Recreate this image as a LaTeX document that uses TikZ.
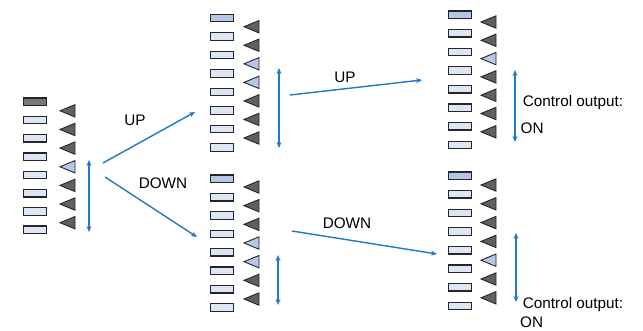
\documentclass[tikz,border=0pt]{standalone}
\usepackage{fontspec}
\setmainfont{Liberation Sans}
\usetikzlibrary{arrows.meta}
\definecolor{rdark}{HTML}{767676}
\definecolor{rlight}{HTML}{DCE6F4}
\definecolor{rmed}{HTML}{B4C7E7}
\definecolor{tdark}{HTML}{606060}
\definecolor{tlight}{HTML}{B4C7E7}
\definecolor{ablue}{HTML}{1F78C8}
\tikzset{
  cell/.style={rectangle, draw=black!85, line width=1.3pt, minimum width=22.5pt, minimum height=7.5pt, inner sep=0pt},
  tri/.style={draw=black!85, line width=0.9pt, line join=miter},
  flow/.style={draw=ablue, line width=1.4pt, -{Stealth[length=6pt,width=5pt]}},
  span/.style={draw=ablue, line width=1.4pt, {Stealth[length=6pt,width=5pt]}-{Stealth[length=6pt,width=5pt]}},
  lbl/.style={font=\fontsize{15.3}{18}\selectfont, inner sep=0pt},
}
% #1 name, #2 rect cx, #3 first rect cy, #4 rect step, #5 tri apex x, #6 first tri cy, #7 tri step, #8 tri colours, #9 first rect colour
\newcommand\cellgroup[9]{%
  \node[cell, fill=#9] (#1r0) at (#2,#3) {};
  \foreach \i in {1,...,7} {\node[cell, fill=rlight] (#1r\i) at ({#2},{#3+\i*#4}) {};}
  \foreach \c [count=\k from 0] in {#8} {%
    \path[tri, fill=\c] ({#5},{#6+\k*#7}) coordinate (#1t\k) -- ({#5+15},{#6+\k*#7-6.2}) -- ({#5+15},{#6+\k*#7+6.2}) -- cycle;}
}
\begin{document}
\begin{tikzpicture}[x=1pt,y=-1pt]
\useasboundingbox[fill=white] (0,0) rectangle (643,330);
\cellgroup{a}{35}{101.7}{18.3}{60}{110.8}{18.65}{tdark,tdark,tdark,tlight,tdark,tdark,tdark}{rdark}
\cellgroup{b}{222}{18}{18.5}{244}{26.7}{18.55}{tdark,tdark,tlight,tlight,tdark,tdark,tdark}{rmed}
\cellgroup{c}{222}{178.7}{18.4}{244}{187}{18.67}{tdark,tdark,tdark,tlight,tlight,tdark,tdark}{rmed}
\cellgroup{d}{460}{14.7}{18.6}{481}{22}{18.3}{tdark,tdark,tlight,tdark,tdark,tdark,tdark}{rmed}
\cellgroup{e}{460}{175.7}{18.6}{481}{185}{18.8}{tdark,tdark,tdark,tdark,tlight,tdark,tdark}{rmed}
% spans
\coordinate (as1) at (89,160); \coordinate (as2) at (89,232);
\coordinate (bs1) at (279,68); \coordinate (bs2) at (279,148);
\coordinate (cs1) at (278,255); \coordinate (cs2) at (278,305);
\coordinate (ds1) at (515,70); \coordinate (ds2) at (515,142);
\coordinate (es1) at (516,233); \coordinate (es2) at (516,302);
\draw[span] (as1) -- (as2);
\draw[span] (bs1) -- (bs2);
\draw[span] (cs1) -- (cs2);
\draw[span] (ds1) -- (ds2);
\draw[span] (es1) -- (es2);
% flows
\coordinate (u1s) at (103,163); \coordinate (u1e) at (195,112);
\coordinate (d1s) at (105,177); \coordinate (d1e) at (197,237);
\coordinate (u2s) at (290,95);  \coordinate (u2e) at (422,80);
\coordinate (d2s) at (292,231); \coordinate (d2e) at (437,254);
\draw[flow] (u1s) -- (u1e);
\draw[flow] (d1s) -- (d1e);
\draw[flow] (u2s) -- (u2e);
\draw[flow] (d2s) -- (d2e);
% labels
\node[lbl] (lu1) at (135,120) {UP};
\node[lbl] (ld1) at (163,183) {DOWN};
\node[lbl] (lu2) at (345,77) {UP};
\node[lbl] (ld2) at (347,223) {DOWN};
\node[lbl, anchor=west] (c1) at (522.7,103) {Control output:};
\node[lbl, anchor=west] (o1) at (520.5,128) {ON};
\node[lbl, anchor=west] (c2) at (522.7,305) {Control output:};
\node[lbl, anchor=west] (o2) at (520,322) {ON};
\end{tikzpicture}
\end{document}
